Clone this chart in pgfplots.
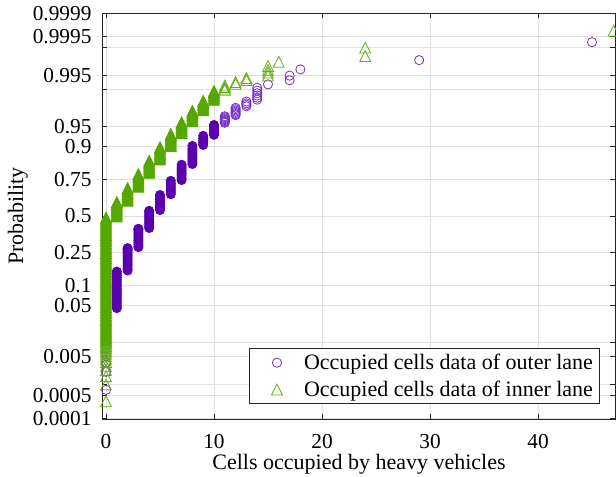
\documentclass[border=0pt]{standalone}
\usepackage{fontspec}
\setmainfont{Liberation Serif}
\usepackage{pgfplots}
\pgfplotsset{compat=1.18}
\definecolor{pur}{RGB}{90,0,175}
\definecolor{purl}{RGB}{118,48,200}
\definecolor{grn}{RGB}{86,168,0}
\definecolor{grnl}{RGB}{98,176,18}
\newcommand{\tickfont}{\fontsize{16}{19}\selectfont}
\newcommand{\labfont}{\fontsize{16.5}{20}\selectfont}
\begin{document}
\begin{tikzpicture}
\useasboundingbox (-76.5pt,-43.5pt) rectangle (385.5pt,314.25pt);
\begin{axis}[
  at={(0pt,0pt)}, anchor=south west,
  scale only axis, width=384.75pt, height=304.5pt,
  xmin=-0.37, xmax=47.13, ymin=-3.725, ymax=3.725,
  xtick={0,10,20,30,40},
  ytick={-3.7190,-3.2905,-3.0902,-2.5758,-2.3263,-1.6449,-1.2816,-0.6745,0,0.6745,1.2816,1.6449,2.3263,2.5758,3.0902,3.2905,3.7190},
  yticklabels={0.0001,0.0005,{},0.005,{},0.05,0.1,0.25,0.5,0.75,0.9,0.95,{},0.995,{},0.9995,0.9999},
  /pgf/number format/assume math mode=true,
  tick label style={font=\tickfont},
  xticklabel style={inner sep=0pt, yshift=-11.5pt},
  yticklabel style={inner sep=0pt, xshift=-7.7pt},
  tick align=inside, major tick length=3.75pt,
  tick style={color=black!85, line width=0.6pt},
  axis line style={color=black!85, line width=0.6pt},
  grid=major, major grid style={color=black!12, line width=0.6pt},
  xlabel={Cells occupied by heavy vehicles}, ylabel={Probability},
  every axis x label/.style={at={(axis description cs:0.501,-0.0855)}, anchor=north, inner sep=0pt, font=\labfont},
  every axis y label/.style={at={(axis description cs:-0.1442,0.5)}, rotate=90, anchor=south, inner sep=0pt, font=\labfont},
  legend cell align=left,
  legend style={at={(axis description cs:0.9708,0.037)}, anchor=south east, draw=black!85, line width=0.6pt, font=\labfont, fill=white, row sep=3pt},
  legend image code/.code={\path[draw=none,fill=none] (0pt,0pt) -- (36pt,0pt); \draw[#1] plot coordinates {(17.7pt,0pt)};},
  only marks,
]
% outer lane, sparse points (open circles)
\addplot[mark=o, mark size=3.45pt, mark options={draw=purl, line width=0.6pt}] coordinates {
(0,-3.19)(0,-2.86)(0,-2.69)(0,-2.576)(0,-2.49)(0,-2.415)(0,-2.354)(0,-2.30)(0,-2.252)(0,-2.21)(0,-2.17)(0,-2.135)
(11,1.711)(11,1.727)(11,1.743)(11,1.76)(11,1.776)(11,1.794)(11,1.812)(11,1.83)
(12,1.85)(12,1.87)(12,1.891)(12,1.913)(12,1.936)(12,1.96)(12,1.985)
(13,2.012)(13,2.04)(13,2.068)(13,2.10)
(14,2.135)(14,2.17)(14,2.21)(14,2.252)(14,2.30)(14,2.354)
(15,2.415)(17,2.49)(17,2.576)(18,2.69)(29,2.86)(45,3.19)};
\addlegendentry{Occupied cells data of outer lane}
% outer lane, dense stacks
\addplot[forget plot, mark=*, mark size=3.45pt, mark options={draw=pur, fill=pur, line width=0.6pt}] coordinates {
(0,-2.10)(0,-2.06)(0,-2.02)(0,-1.98)(0,-1.94)(0,-1.90)(0,-1.86)(0,-1.82)(0,-1.78)(0,-1.74)(0,-1.72)
(1,-1.69)(1,-1.65)(1,-1.61)(1,-1.57)(1,-1.53)(1,-1.49)(1,-1.45)(1,-1.41)(1,-1.37)(1,-1.33)(1,-1.29)(1,-1.25)(1,-1.21)(1,-1.17)(1,-1.13)(1,-1.09)(1,-1.05)(1,-1.02)
(2,-1.00)(2,-0.96)(2,-0.92)(2,-0.88)(2,-0.84)(2,-0.80)(2,-0.76)(2,-0.72)(2,-0.68)(2,-0.64)(2,-0.61)(2,-0.59)
(3,-0.57)(3,-0.53)(3,-0.49)(3,-0.45)(3,-0.41)(3,-0.37)(3,-0.33)(3,-0.29)(3,-0.25)(3,-0.235)
(4,-0.22)(4,-0.18)(4,-0.14)(4,-0.10)(4,-0.06)(4,-0.02)(4,0.02)(4,0.06)(4,0.095)
(5,0.11)(5,0.15)(5,0.19)(5,0.23)(5,0.27)(5,0.31)(5,0.35)(5,0.385)
(6,0.40)(6,0.44)(6,0.48)(6,0.52)(6,0.56)(6,0.60)(6,0.645)
(7,0.66)(7,0.70)(7,0.74)(7,0.78)(7,0.82)(7,0.86)(7,0.90)(7,0.94)
(8,0.955)(8,0.995)(8,1.035)(8,1.075)(8,1.115)(8,1.155)(8,1.195)(8,1.235)(8,1.285)
(9,1.305)(9,1.345)(9,1.385)(9,1.425)(9,1.47)
(10,1.49)(10,1.52)(10,1.55)(10,1.58)(10,1.61)(10,1.64)(10,1.67)};
% inner lane, sparse points (open triangles)
\addplot[mark=triangle, mark size=4.7pt, mark options={draw=grnl, line width=0.6pt, yshift=-1.35pt, yscale=1.15}] coordinates {
(0,-3.40)(0,-3.09)(0,-2.94)(0,-2.83)(0,-2.75)(0,-2.68)(0,-2.62)(0,-2.576)(0,-2.53)(0,-2.49)(0,-2.457)(0,-2.425)(0,-2.394)(0,-2.365)(0,-2.339)(0,-2.314)(0,-2.29)
(11,2.314)(11,2.339)(11,2.365)(11,2.394)
(12,2.425)(12,2.457)
(13,2.494)(13,2.532)
(15,2.576)(15,2.63)(15,2.68)(15,2.75)
(16,2.83)(24,2.935)(24,3.09)(47,3.40)};
\addlegendentry{Occupied cells data of inner lane}
% inner lane, dense stacks
\addplot[forget plot, mark=triangle*, mark size=4.7pt, mark options={draw=grn, fill=grn, line width=0.6pt, yshift=-1.35pt, yscale=1.15}] coordinates {
(0,-2.27)(0,-2.24)(0,-2.21)(0,-2.18)(0,-2.15)(0,-2.12)(0,-2.09)(0,-2.06)(0,-2.03)(0,-2.00)
(0,-1.97)(0,-1.94)(0,-1.91)(0,-1.88)(0,-1.85)(0,-1.82)(0,-1.79)(0,-1.76)(0,-1.73)(0,-1.70)
(0,-1.67)(0,-1.64)(0,-1.61)(0,-1.58)(0,-1.55)(0,-1.52)(0,-1.49)(0,-1.46)(0,-1.43)(0,-1.40)
(0,-1.37)(0,-1.34)(0,-1.31)(0,-1.28)(0,-1.25)(0,-1.22)(0,-1.19)(0,-1.16)(0,-1.13)(0,-1.10)
(0,-1.07)(0,-1.04)(0,-1.01)(0,-0.98)(0,-0.95)(0,-0.92)(0,-0.89)(0,-0.86)(0,-0.83)(0,-0.80)
(0,-0.77)(0,-0.74)(0,-0.71)(0,-0.68)(0,-0.65)(0,-0.62)(0,-0.59)(0,-0.56)(0,-0.53)(0,-0.50)
(0,-0.47)(0,-0.44)(0,-0.41)(0,-0.38)(0,-0.35)(0,-0.32)(0,-0.29)(0,-0.26)(0,-0.23)(0,-0.20)
(0,-0.17)(0,-0.14)(0,-0.11)(0,-0.08)(0,-0.05)(0,-0.03)
(1,-0.01)(1,0.02)(1,0.05)(1,0.08)(1,0.11)(1,0.14)(1,0.17)(1,0.20)(1,0.23)(1,0.255)
(2,0.28)(2,0.31)(2,0.34)(2,0.37)(2,0.40)(2,0.43)(2,0.46)(2,0.49)(2,0.511)
(3,0.535)(3,0.565)(3,0.595)(3,0.625)(3,0.655)(3,0.685)(3,0.715)(3,0.745)(3,0.768)
(4,0.79)(4,0.82)(4,0.85)(4,0.88)(4,0.91)(4,0.94)(4,0.97)(4,1.00)(4,1.012)
(5,1.035)(5,1.065)(5,1.095)(5,1.125)(5,1.155)(5,1.185)(5,1.215)(5,1.245)(5,1.263)
(6,1.285)(6,1.315)(6,1.345)(6,1.375)(6,1.405)(6,1.435)(6,1.465)(6,1.49)(6,1.501)
(7,1.52)(7,1.55)(7,1.58)(7,1.61)(7,1.64)(7,1.67)(7,1.70)(7,1.721)
(8,1.74)(8,1.77)(8,1.80)(8,1.83)(8,1.86)(8,1.89)(8,1.91)(8,1.929)
(9,1.945)(9,1.975)(9,2.005)(9,2.035)(9,2.065)(9,2.09)(9,2.112)
(10,2.13)(10,2.16)(10,2.19)(10,2.22)(10,2.25)(10,2.275)(10,2.295)};
\end{axis}
\end{tikzpicture}
\end{document}
